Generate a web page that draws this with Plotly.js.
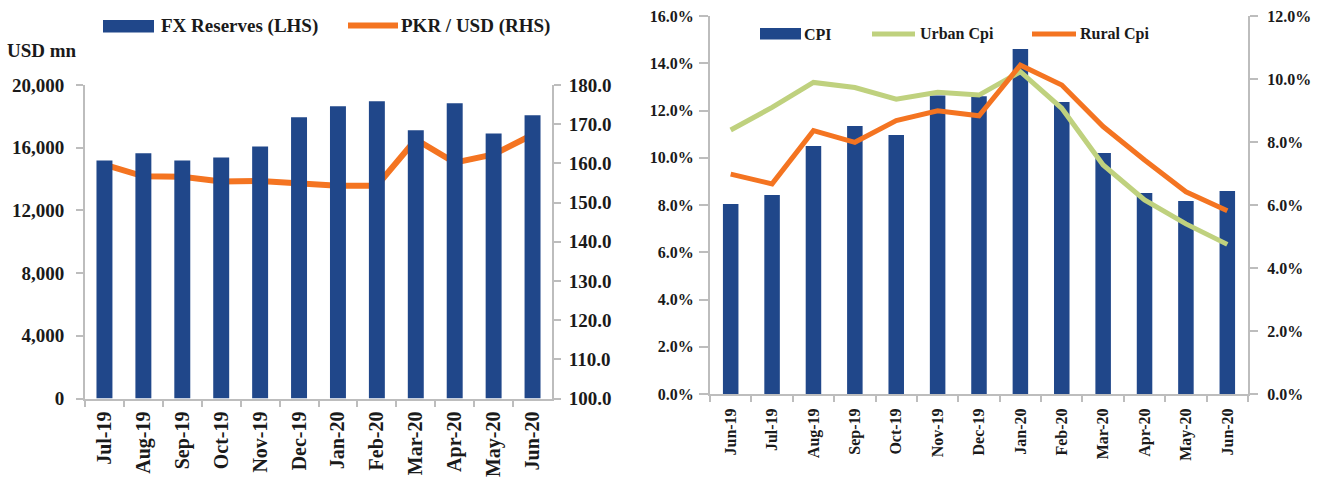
<!DOCTYPE html>
<html>
<head>
<meta charset="utf-8">
<script src="https://cdn.plot.ly/plotly-3.0.1.min.js"></script>
<style>html,body{margin:0;padding:0;background:#fff;}#chart{width:1323px;height:481px;}</style>
</head>
<body>
<div id="chart"></div>
<script>
// ---- Data ----
const months1 = ['Jul-19','Aug-19','Sep-19','Oct-19','Nov-19','Dec-19','Jan-20','Feb-20','Mar-20','Apr-20','May-20','Jun-20'];
const fxReserves = [15190, 15640, 15190, 15380, 16080, 17940, 18640, 18960, 17110, 18830, 16910, 18070];
const pkrUsd = [159.7, 156.7, 156.6, 155.4, 155.5, 155.0, 154.3, 154.3, 166.1, 160.2, 162.3, 167.3];

const months2 = ['Jun-19','Jul-19','Aug-19','Sep-19','Oct-19','Nov-19','Dec-19','Jan-20','Feb-20','Mar-20','Apr-20','May-20','Jun-20'];
const cpi = [8.04, 8.42, 10.50, 11.34, 10.96, 12.63, 12.60, 14.60, 12.36, 10.20, 8.51, 8.17, 8.59];
const urbanCpi = [8.38, 9.10, 9.89, 9.73, 9.36, 9.58, 9.49, 10.23, 9.07, 7.27, 6.16, 5.40, 4.75];
const ruralCpi = [6.98, 6.67, 8.36, 7.99, 8.68, 8.99, 8.83, 10.44, 9.81, 8.49, 7.43, 6.42, 5.82];

const legend1 = ['FX Reserves (LHS)', 'PKR / USD (RHS)'];
const legend2 = ['CPI', 'Urban Cpi', 'Rural Cpi'];
const unitLabel = 'USD mn';

// ---- Styles ----
const W = 1323, H = 481;
const BLUE = '#20478A', ORANGE = '#F47421', GREEN = '#BFD17E';
const GRAY = '#BDBDBD', TXT = '#1a1a1a';
const FONT = '"Liberation Serif", "Times New Roman", serif';
const fL = {family: FONT, size: 19, color: TXT, weight: 'bold'};
const fLx = {family: FONT, size: 20, color: TXT, weight: 'bold'};
const fR = {family: FONT, size: 16, color: TXT, weight: 'bold'};
const px = v => v / W;
const py = v => (H - v) / H;

const traces = [
  {type: 'scatter', mode: 'lines', x: months1, y: pkrUsd, xaxis: 'x', yaxis: 'y',
   line: {color: ORANGE, width: 6}, showlegend: false, hoverinfo: 'skip'},
  {type: 'bar', x: months1, y: fxReserves, xaxis: 'x', yaxis: 'y2', width: 0.41,
   marker: {color: BLUE}, showlegend: false, hoverinfo: 'skip'},
  {type: 'bar', x: months2, y: cpi, xaxis: 'x2', yaxis: 'y3', width: 0.375,
   marker: {color: BLUE}, showlegend: false, hoverinfo: 'skip'},
  {type: 'scatter', mode: 'lines', x: months2, y: urbanCpi, xaxis: 'x2', yaxis: 'y4',
   line: {color: GREEN, width: 5}, showlegend: false, hoverinfo: 'skip'},
  {type: 'scatter', mode: 'lines', x: months2, y: ruralCpi, xaxis: 'x2', yaxis: 'y4',
   line: {color: ORANGE, width: 5}, showlegend: false, hoverinfo: 'skip'}
];

const axBase = {showgrid: false, zeroline: false, showline: true, linecolor: GRAY, linewidth: 2,
  ticks: 'outside', tickcolor: GRAY, tickwidth: 2, fixedrange: true};

const layout = {
  width: W, height: H, margin: {l: 0, r: 0, t: 0, b: 0},
  paper_bgcolor: '#fff', plot_bgcolor: 'rgba(0,0,0,0)', showlegend: false,
  xaxis: Object.assign({}, axBase, {domain: [px(85), px(552)], anchor: 'y', type: 'category',
    range: [-0.5, 11.5], tickson: 'boundaries', ticklen: 6, tickangle: -90, tickfont: fLx, ticklabelstandoff: 3}),
  yaxis: Object.assign({}, axBase, {domain: [py(398.5), py(85)], anchor: 'x', side: 'right',
    range: [100, 180], dtick: 10, tickformat: '.1f', ticklen: 7, tickfont: fL, ticklabelstandoff: 4}),
  yaxis2: Object.assign({}, axBase, {overlaying: 'y', anchor: 'x', side: 'left',
    range: [0, 20000], dtick: 4000, tickformat: ',d', ticklen: 7, tickfont: fL, ticklabelstandoff: 8}),
  xaxis2: Object.assign({}, axBase, {domain: [px(710), px(1248)], anchor: 'y3', type: 'category',
    range: [-0.5, 12.5], tickson: 'boundaries', ticklen: 6, tickangle: -90, tickfont: fR, ticklabelstandoff: 6}),
  yaxis3: Object.assign({}, axBase, {domain: [py(394), py(16)], anchor: 'x2', side: 'left',
    range: [0, 16], dtick: 2, tickformat: '.1f', ticksuffix: '%', ticklen: 9, tickfont: fR, ticklabelstandoff: 2}),
  yaxis4: Object.assign({}, axBase, {overlaying: 'y3', anchor: 'x2', side: 'right',
    range: [0, 12], dtick: 2, tickformat: '.1f', ticksuffix: '%', ticklen: 8, tickfont: fR, ticklabelstandoff: 6}),
  shapes: [
    {type: 'rect', xref: 'paper', yref: 'paper', x0: px(103), x1: px(154), y0: py(32.5), y1: py(20),
     fillcolor: BLUE, line: {width: 0}},
    {type: 'line', xref: 'paper', yref: 'paper', x0: px(348), x1: px(398), y0: py(25.5), y1: py(25.5),
     line: {color: ORANGE, width: 6}},
    {type: 'rect', xref: 'paper', yref: 'paper', x0: px(760), x1: px(801), y0: py(39.5), y1: py(28),
     fillcolor: BLUE, line: {width: 0}},
    {type: 'line', xref: 'paper', yref: 'paper', x0: px(872), x1: px(915), y0: py(34), y1: py(34),
     line: {color: GREEN, width: 5}},
    {type: 'line', xref: 'paper', yref: 'paper', x0: px(1032), x1: px(1076), y0: py(34), y1: py(34),
     line: {color: ORANGE, width: 5}}
  ],
  annotations: [
    {xref: 'paper', yref: 'paper', x: px(159), y: py(25.5), xanchor: 'left', yanchor: 'middle',
     text: legend1[0], showarrow: false, font: fL},
    {xref: 'paper', yref: 'paper', x: px(399), y: py(25.5), xanchor: 'left', yanchor: 'middle',
     text: legend1[1], showarrow: false, font: fL},
    {xref: 'paper', yref: 'paper', x: px(5), y: py(50), xanchor: 'left', yanchor: 'middle',
     text: unitLabel, showarrow: false, font: fL},
    {xref: 'paper', yref: 'paper', x: px(802), y: py(34), xanchor: 'left', yanchor: 'middle',
     text: legend2[0], showarrow: false, font: fR},
    {xref: 'paper', yref: 'paper', x: px(918), y: py(34), xanchor: 'left', yanchor: 'middle',
     text: legend2[1], showarrow: false, font: fR},
    {xref: 'paper', yref: 'paper', x: px(1078), y: py(34), xanchor: 'left', yanchor: 'middle',
     text: legend2[2], showarrow: false, font: fR}
  ]
};

Plotly.newPlot('chart', traces, layout, {staticPlot: true, displayModeBar: false});
</script>
</body>
</html>
